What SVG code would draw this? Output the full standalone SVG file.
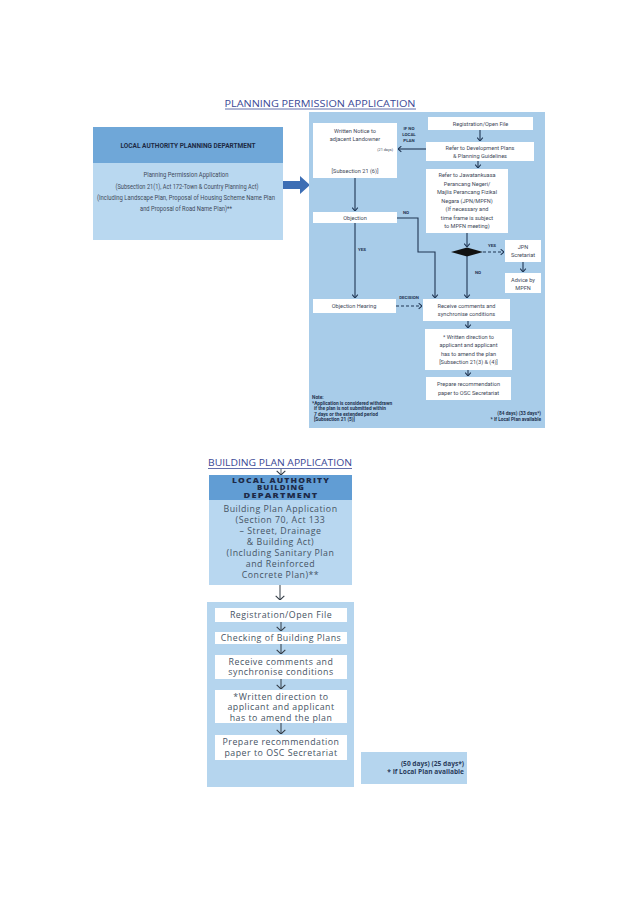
<svg xmlns="http://www.w3.org/2000/svg" width="638" height="903" viewBox="0 0 638 903">
<defs>
<style>
.title{font-family:"Open Sans","Liberation Sans",sans-serif;font-size:9.5px;fill:#3b4996;text-anchor:middle}
.ul{stroke:#3b4996;stroke-width:0.8}
.lt{font-family:Roboto,"Liberation Sans",sans-serif;font-size:6.6px;fill:#3e4a5a;text-anchor:middle}
.lh{font-family:Roboto,"Liberation Sans",sans-serif;font-size:6.6px;font-weight:bold;fill:#1d2a44;text-anchor:middle}
.pt{font-family:Roboto,"Liberation Sans",sans-serif;font-size:5.6px;fill:#3e4858;text-anchor:middle}
.lab{font-family:Roboto,"Liberation Sans",sans-serif;font-size:4.4px;font-weight:bold;fill:#1f3350;text-anchor:middle}
.note{font-family:Roboto,"Liberation Sans",sans-serif;font-size:4.8px;font-weight:bold;fill:#1f3350}
.bt{font-family:"Open Sans","Liberation Sans",sans-serif;font-size:8.8px;fill:#465464;text-anchor:middle;letter-spacing:0.5px}
.bh{font-family:"Open Sans","Liberation Sans",sans-serif;font-size:6px;font-weight:800;fill:#1d2a48;text-anchor:middle;letter-spacing:0.8px}
.days{font-family:"Open Sans","Liberation Sans",sans-serif;font-size:6.6px;font-weight:bold;fill:#2a3c5c;text-anchor:end}
.box{fill:#ffffff}
.c{fill:none;stroke:#1f3553;stroke-width:1.1}
.d{fill:none;stroke:#1f3553;stroke-width:1.1;stroke-dasharray:3 2}
.bc{fill:none;stroke:#333c46;stroke-width:1}
</style>
<marker id="v" viewBox="0 0 6 10" refX="5.5" refY="5" markerWidth="4" markerHeight="7" orient="auto" markerUnits="userSpaceOnUse">
<path d="M0.5,0.8 L5.5,5 L0.5,9.2" fill="none" stroke="#1f3553" stroke-width="1.6"/>
</marker>
<marker id="bv" viewBox="0 0 6 12" refX="5.5" refY="6" markerWidth="5" markerHeight="11" orient="auto" markerUnits="userSpaceOnUse">
<path d="M0.5,0.8 L5.5,6 L0.5,11.2" fill="none" stroke="#333c46" stroke-width="1.3"/>
</marker>
</defs>
<rect width="638" height="903" fill="#ffffff"/>

<!-- Planning permission section -->
<g id="title-planning">
<text class="title" x="320" y="107" textLength="191" lengthAdjust="spacingAndGlyphs">PLANNING PERMISSION APPLICATION</text>
<line class="ul" x1="225" y1="109" x2="416" y2="109"/>
</g>

<g id="planning-department">
<rect x="93" y="127" width="190" height="113" fill="#b9d8f0"/>
<rect x="93" y="127" width="190" height="36" fill="#6fa7d8"/>
<text class="lh" x="188" y="148" textLength="135" lengthAdjust="spacingAndGlyphs">LOCAL AUTHORITY PLANNING DEPARTMENT</text>
<text class="lt" x="186" y="177" textLength="85" lengthAdjust="spacingAndGlyphs">Planning Permission Application</text>
<text class="lt" x="187" y="189" textLength="143" lengthAdjust="spacingAndGlyphs">(Subsection 21(1), Act 172-Town &amp; Country Planning Act)</text>
<text class="lt" x="186" y="200" textLength="178" lengthAdjust="spacingAndGlyphs">(Including Landscape Plan, Proposal of Housing Scheme Name Plan</text>
<text class="lt" x="186" y="211" textLength="92" lengthAdjust="spacingAndGlyphs">and Proposal of Road Name Plan)**</text>
</g>

<g id="big-arrow">
<path d="M283,181 H300 V176 L310,185 L300,194 V189 H283 Z" fill="#3d6eb4"/>
</g>

<g id="planning-panel">
<rect x="309" y="112" width="236" height="316" fill="#a8cce9"/>
</g>

<g id="written-notice">
<rect class="box" x="313" y="123" width="84" height="55"/>
<text class="pt" x="355" y="133">Written Notice to</text>
<text class="pt" x="355" y="141">adjacent Landowner</text>
<text class="pt" x="393" y="151" style="font-size:3.8px;text-anchor:end">(21 days)</text>
<text class="pt" x="355" y="173">[Subsection 21 (6)]</text>
</g>

<g id="if-no-local-plan">
<text class="lab" x="409" y="130">IF NO</text>
<text class="lab" x="409" y="136">LOCAL</text>
<text class="lab" x="409" y="142">PLAN</text>
</g>

<g id="registration">
<rect class="box" x="428" y="117" width="105" height="13"/>
<text class="pt" x="480.5" y="125.8">Registration/Open File</text>
</g>

<g id="refer-development">
<rect class="box" x="426" y="142" width="108" height="19"/>
<text class="pt" x="480" y="149.6">Refer to Development Plans</text>
<text class="pt" x="480" y="157.8">&amp; Planning Guidelines</text>
</g>

<g id="refer-jawatankuasa">
<rect class="box" x="426" y="169" width="82" height="64"/>
<text class="pt" x="467" y="177">Refer to Jawatankuasa</text>
<text class="pt" x="467" y="185.5">Perancang Negeri/</text>
<text class="pt" x="467" y="194">Majlis Perancang Fizikal</text>
<text class="pt" x="467" y="202.5">Negara (JPN/MPFN)</text>
<text class="pt" x="467" y="211">(If necessary and</text>
<text class="pt" x="467" y="219.5">time frame is subject</text>
<text class="pt" x="467" y="228">to MPFN meeting)</text>
</g>

<g id="decision-diamond">
<polygon points="451,252 467,247.5 483,252 467,256.5" fill="#111111"/>
</g>

<g id="objection">
<rect class="box" x="313" y="212" width="84" height="11"/>
<text class="pt" x="355" y="219.5">Objection</text>
</g>

<g id="objection-hearing">
<rect class="box" x="313" y="299" width="83" height="14"/>
<text class="pt" x="354" y="308">Objection Hearing</text>
</g>

<g id="jpn-secretariat">
<rect class="box" x="505" y="240" width="36" height="22"/>
<text class="pt" x="523" y="248.5">JPN</text>
<text class="pt" x="523" y="257">Scretariat</text>
</g>

<g id="advice-mpfn">
<rect class="box" x="505" y="273" width="36" height="20"/>
<text class="pt" x="523" y="281.5">Advice by</text>
<text class="pt" x="523" y="290">MPFN</text>
</g>

<g id="receive-comments">
<rect class="box" x="423" y="299" width="87" height="22"/>
<text class="pt" x="466.5" y="307.5">Receive comments and</text>
<text class="pt" x="466.5" y="316">synchronise conditions</text>
</g>

<g id="written-direction">
<rect class="box" x="425" y="329" width="87" height="41"/>
<text class="pt" x="468.5" y="338.5">* Written direction to</text>
<text class="pt" x="468.5" y="347">applicant and applicant</text>
<text class="pt" x="468.5" y="355.5">has to amend the plan</text>
<text class="pt" x="468.5" y="364">[Subsection 21(3) &amp; (4)]</text>
</g>

<g id="prepare-recommendation">
<rect class="box" x="426" y="377" width="85" height="23"/>
<text class="pt" x="468.5" y="386">Prepare recommendation</text>
<text class="pt" x="468.5" y="394.5">paper to OSC Secretariat</text>
</g>

<g id="planning-note">
<text class="note" x="312" y="399">Note:</text>
<text class="note" x="312" y="404.5">*Application is considered withdrawn</text>
<text class="note" x="314" y="410">if the plan is not submitted within</text>
<text class="note" x="314" y="415.5">7 days or the extended period</text>
<text class="note" x="314" y="421">[Subsection 21 (5)]</text>
<text class="note" x="541" y="415" style="text-anchor:end">(84 days) (33 days*)</text>
<text class="note" x="541" y="421" style="text-anchor:end">* If Local Plan available</text>
</g>

<g id="planning-connectors">
<line class="c" x1="355" y1="178" x2="355" y2="211" marker-end="url(#v)"/>
<line class="c" x1="355" y1="223" x2="355" y2="298" marker-end="url(#v)"/>
<text class="lab" x="362" y="251">YES</text>
<path class="c" d="M397,218 H418 V252 H435 V298" marker-end="url(#v)"/>
<text class="lab" x="406" y="214">NO</text>
<line class="c" x1="426" y1="149" x2="398" y2="149" marker-end="url(#v)"/>
<line class="c" x1="480" y1="130" x2="480" y2="141" marker-end="url(#v)"/>
<line class="c" x1="478" y1="161" x2="478" y2="168" marker-end="url(#v)"/>
<line class="c" x1="467" y1="233" x2="467" y2="247" marker-end="url(#v)"/>
<line class="c" x1="467" y1="256" x2="467" y2="298" marker-end="url(#v)"/>
<text class="lab" x="478" y="274">NO</text>
<line class="d" x1="483" y1="252" x2="504" y2="252" marker-end="url(#v)"/>
<text class="lab" x="492" y="247">YES</text>
<line class="c" x1="523" y1="262" x2="523" y2="272" marker-end="url(#v)"/>
<line class="d" x1="396" y1="306" x2="422" y2="306" marker-end="url(#v)"/>
<text class="lab" x="409" y="299">DECISION</text>
<line class="c" x1="468" y1="321" x2="468" y2="328" marker-end="url(#v)"/>
<line class="c" x1="468" y1="370" x2="468" y2="376" marker-end="url(#v)"/>
</g>

<!-- Building plan section -->
<g id="title-building">
<text class="title" x="280" y="466" textLength="144" lengthAdjust="spacingAndGlyphs">BUILDING PLAN APPLICATION</text>
<line class="ul" x1="208" y1="468.5" x2="352" y2="468.5"/>
</g>

<g id="building-department">
<rect x="209" y="475" width="143" height="110" fill="#b8d7f0"/>
<rect x="209" y="475" width="143" height="25" fill="#619dd4"/>
<text class="bh" x="281" y="482.6" textLength="98" lengthAdjust="spacingAndGlyphs">LOCAL AUTHORITY</text>
<text class="bh" x="281" y="490.3" textLength="48" lengthAdjust="spacingAndGlyphs">BUILDING</text>
<text class="bh" x="281" y="498" textLength="75" lengthAdjust="spacingAndGlyphs">DEPARTMENT</text>
<text class="bt" x="280.5" y="512">Building Plan Application</text>
<text class="bt" x="280.5" y="523">(Section 70, Act 133</text>
<text class="bt" x="280.5" y="534">– Street, Drainage</text>
<text class="bt" x="280.5" y="545">&amp; Building Act)</text>
<text class="bt" x="280.5" y="556">(Including Sanitary Plan</text>
<text class="bt" x="280.5" y="567">and Reinforced</text>
<text class="bt" x="280.5" y="578">Concrete Plan)**</text>
</g>

<g id="building-panel">
<rect x="207" y="602" width="147" height="185" fill="#b5d5ee"/>
</g>

<g id="b-registration">
<rect class="box" x="215" y="608" width="132" height="14"/>
<text class="bt" x="281" y="618">Registration/Open File</text>
</g>

<g id="b-checking">
<rect class="box" x="215" y="632" width="132" height="12"/>
<text class="bt" x="281" y="641">Checking of Building Plans</text>
</g>

<g id="b-receive">
<rect class="box" x="215" y="655" width="132" height="24"/>
<text class="bt" x="281" y="664.5">Receive comments and</text>
<text class="bt" x="281" y="675">synchronise conditions</text>
</g>

<g id="b-written">
<rect class="box" x="215" y="690" width="132" height="33"/>
<text class="bt" x="281" y="699.5">*Written direction to</text>
<text class="bt" x="281" y="710">applicant and applicant</text>
<text class="bt" x="281" y="720.5">has to amend the plan</text>
</g>

<g id="b-prepare">
<rect class="box" x="215" y="735" width="132" height="25"/>
<text class="bt" x="281" y="745">Prepare recommendation</text>
<text class="bt" x="281" y="756">paper to OSC Secretariat</text>
</g>

<g id="b-days">
<rect x="361" y="752" width="106" height="32" fill="#b5d5ee"/>
<text class="days" x="464" y="766">(50 days) (25 days*)</text>
<text class="days" x="464" y="774">* If Local Plan available</text>
</g>

<g id="building-connectors">
<line class="bc" x1="281" y1="469" x2="281" y2="475" marker-end="url(#bv)" style="stroke-width:0.8"/>
<line class="bc" x1="280" y1="585" x2="280" y2="600" marker-end="url(#bv)"/>
<line class="bc" x1="281" y1="622" x2="281" y2="631" marker-end="url(#bv)"/>
<line class="bc" x1="281" y1="644" x2="281" y2="654" marker-end="url(#bv)"/>
<line class="bc" x1="281" y1="679" x2="281" y2="689" marker-end="url(#bv)"/>
<line class="bc" x1="281" y1="723" x2="281" y2="734" marker-end="url(#bv)"/>
</g>
</svg>
